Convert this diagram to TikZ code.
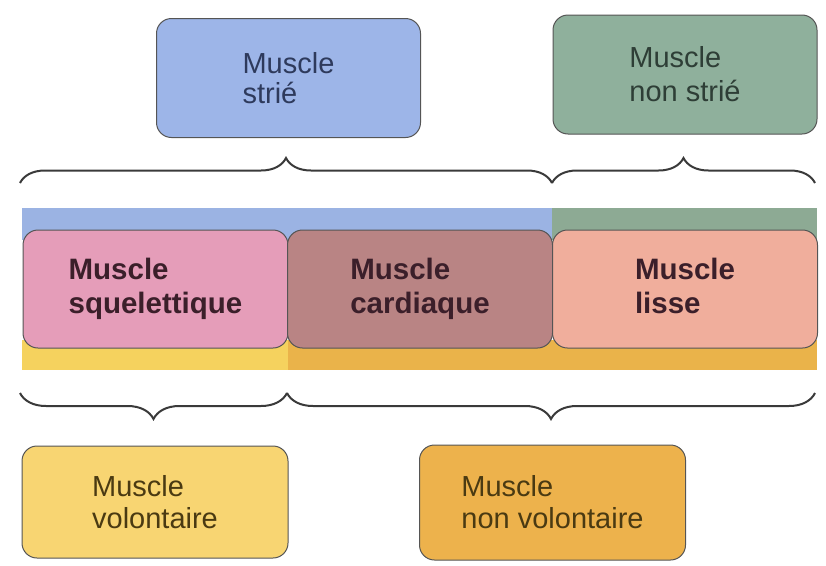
\documentclass[tikz,border=0pt]{standalone}
\usepackage{fontspec}
\setmainfont{Liberation Sans}
\usetikzlibrary{decorations.pathreplacing}
\definecolor{cblue}{HTML}{9DB5E8}
\definecolor{cgreen}{HTML}{8FB09C}
\definecolor{cpink}{HTML}{E59DB9}
\definecolor{ccard}{HTML}{B98484}
\definecolor{clisse}{HTML}{F0AE9C}
\definecolor{cyellow}{HTML}{F8D572}
\definecolor{corange}{HTML}{EDB24C}
\definecolor{bblue}{HTML}{9BB3E3}
\definecolor{bgreen}{HTML}{8DAA94}
\definecolor{byellow}{HTML}{F5D25E}
\definecolor{borange}{HTML}{EAB34A}
\definecolor{tnavy}{HTML}{2E3A5C}
\definecolor{tgreen}{HTML}{2E3E36}
\definecolor{tdark}{HTML}{3B1F2A}
\definecolor{tbrown}{HTML}{4A3A12}
\definecolor{edge}{HTML}{555555}
\definecolor{bracecol}{HTML}{3A3A3A}
\tikzset{
  boxbase/.style={draw=edge, line width=1pt, rounded corners=15pt, inner sep=0pt, align=left},
  topbox/.style={boxbase, minimum width=264pt, minimum height=119pt, text=tnavy,
     font=\fontsize{29}{30}\selectfont},
  midbox/.style={boxbase, minimum width=265pt, minimum height=118pt, text=tdark,
     font=\fontsize{29.5}{34.5}\selectfont\bfseries},
  botbox/.style={boxbase, minimum width=266pt, minimum height=112pt, text=tbrown,
     font=\fontsize{29}{32}\selectfont},
  bracedown/.style={decorate, decoration={brace, amplitude=26pt, mirror}, draw=bracecol, line width=2pt},
  braceup/.style={decorate, decoration={brace, amplitude=25pt}, draw=bracecol, line width=2pt},
}
\begin{document}
\begin{tikzpicture}[x=1pt,y=-1pt]
\useasboundingbox (0,0) rectangle (826,565);
% colour bands
\fill[bblue] (22,208) rectangle (552,240);
\fill[bgreen] (552,208) rectangle (817,240);
\fill[byellow] (22,340) rectangle (288,370);
\fill[borange] (288,340) rectangle (817,370);
% top boxes
\node[topbox, fill=cblue] (strie) at (288.5,78) {Muscle\\strié};
\node[topbox, fill=cgreen, text=tgreen, font=\fontsize{29}{34}\selectfont] (nonstrie) at (685,74.5) {Muscle\\non strié};
% middle boxes
\node[midbox, fill=cpink] (squel) at (155.5,289) {Muscle\\squelettique};
\node[midbox, fill=ccard] (card) at (420,289) {Muscle\\cardiaque};
\node[midbox, fill=clisse] (lisse) at (685,289) {Muscle\\lisse\vphantom{q}};
% bottom boxes
\node[botbox, fill=cyellow] (vol) at (155,502) {Muscle\\volontaire};
\node[botbox, fill=corange, minimum height=115pt] (nonvol) at (552.5,502.5) {Muscle\\non volontaire};
% brace coordinates
\coordinate (t1) at (20,183);
\coordinate (t2) at (552,183);
\coordinate (t3) at (815,183);
\coordinate (b1) at (20,393);
\coordinate (b2) at (287,393);
\coordinate (b3) at (815,393);
\draw[braceup] (t1) -- (t2);
\draw[braceup] (t2) -- (t3);
\draw[bracedown] (b1) -- (b2);
\draw[bracedown] (b2) -- (b3);
\end{tikzpicture}
\end{document}
